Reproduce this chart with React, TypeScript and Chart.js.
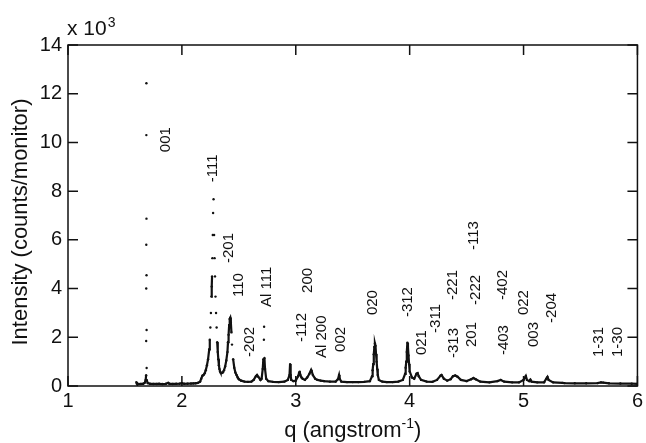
import React, { useEffect, useRef } from 'react';
import { Chart, registerables } from 'chart.js';

Chart.register(...registerables);

const FONT = '"Liberation Sans", Arial, Helvetica, sans-serif';

// scan: q (1/angstrom) and intensity (counts/monitor)
const qValues = [
  1.600, 1.605, 1.620, 1.640, 1.660, 1.675, 1.682,
  1.6860, 1.6865, 1.6870, 1.6875, 1.6880, 1.6885, 1.6890, 1.6895, 1.6900, 1.6905, 1.6910,
  1.700, 1.720, 1.750, 1.780, 1.800, 1.830, 1.860, 1.880, 1.890, 1.920, 1.950, 1.980,
  2.000, 2.020, 2.050, 2.080, 2.100, 2.120, 2.140, 2.160, 2.170, 2.180, 2.190, 2.200,
  2.210, 2.220, 2.230, 2.240, 2.245, 2.250, 2.255, 2.259, 2.262, 2.265, 2.268, 2.271,
  2.274, 2.278, 2.283, 2.287, 2.291, 2.295, 2.300, 2.305, 2.310, 2.315, 2.320, 2.325,
  2.330, 2.335, 2.340, 2.350, 2.360, 2.370, 2.380, 2.390, 2.400, 2.405, 2.410, 2.415,
  2.420, 2.425, 2.430, 2.435, 2.440, 2.450, 2.460, 2.470, 2.480, 2.490, 2.500, 2.520,
  2.550, 2.580, 2.610, 2.630, 2.650, 2.660, 2.670, 2.690, 2.700, 2.710, 2.715, 2.720,
  2.722, 2.725, 2.730, 2.740, 2.760, 2.800, 2.850, 2.900, 2.930, 2.945, 2.950, 2.955,
  2.960, 2.980, 3.000, 3.020, 3.030, 3.035, 3.040, 3.050, 3.060, 3.080, 3.100, 3.120,
  3.130, 3.135, 3.140, 3.150, 3.170, 3.190, 3.220, 3.250, 3.300, 3.350, 3.370, 3.380,
  3.385, 3.400, 3.450, 3.500, 3.550, 3.600, 3.650, 3.670, 3.675, 3.680, 3.685, 3.690,
  3.695, 3.700, 3.705, 3.710, 3.715, 3.720, 3.730, 3.760, 3.800, 3.850, 3.900, 3.940,
  3.960, 3.965, 3.970, 3.975, 3.980, 3.985, 3.990, 3.995, 4.000, 4.020, 4.040, 4.060,
  4.070, 4.080, 4.100, 4.150, 4.200, 4.240, 4.270, 4.280, 4.300, 4.330, 4.360, 4.380,
  4.400, 4.420, 4.450, 4.500, 4.540, 4.560, 4.580, 4.620, 4.700, 4.770, 4.800, 4.830,
  4.900, 4.960, 5.000, 5.020, 5.030, 5.050, 5.060, 5.070, 5.120, 5.180, 5.200, 5.210,
  5.220, 5.260, 5.340, 5.360, 5.450, 5.550, 5.650, 5.680, 5.700, 5.750, 5.850, 5.950,
  6.000,
];

const counts = [
  160, 100, 80, 85, 90, 140, 250,
  440, 1850, 4000, 5800, 10300, 12430, 6870, 4550, 2300, 740, 250,
  120, 90, 85, 85, 90, 80, 90, 130, 90, 85, 90, 95,
  115, 90, 95, 100, 105, 110, 130, 180, 300, 420, 450, 520,
  650, 850, 1100, 1500, 1900, 2400, 3000, 3670, 4080, 4500, 5250, 6200,
  7100, 7670, 6200, 5250, 4500, 3670, 3000, 2400, 1800, 1400, 1100, 850,
  700, 600, 550, 530, 560, 650, 800, 1050, 1400, 1800, 2100, 2500,
  2750, 2800, 2600, 2200, 1700, 1100, 750, 550, 450, 350, 280, 220,
  180, 170, 180, 250, 400, 450, 380, 250, 300, 700, 1100, 1900,
  2430, 1150, 700, 300, 200, 170, 160, 180, 250, 450, 900, 450,
  250, 200, 220, 400, 550, 590, 450, 350, 300, 250, 350, 500,
  600, 660, 600, 450, 300, 250, 220, 200, 180, 180, 280, 450,
  300, 180, 160, 160, 160, 170, 200, 400, 650, 900, 1300, 1600,
  1750, 1650, 1300, 1000, 700, 450, 250, 180, 160, 160, 180, 250,
  500, 750, 1000, 1400, 1780, 1600, 1250, 900, 600, 350, 300, 500,
  530, 400, 250, 180, 170, 250, 420, 450, 300, 220, 280, 400,
  430, 380, 250, 200, 280, 330, 280, 180, 150, 200, 250, 180,
  150, 150, 250, 410, 250, 200, 260, 180, 150, 150, 300, 370,
  250, 150, 130, 120, 110, 110, 120, 150, 140, 110, 100, 95,
  90,
];

// reflection labels, anchored at the start (bottom) of the rotated text
const peakLabels = [
  '001', '-111', '-201', '110', 'Al 111', '-202', '200', '-112', 'Al 200', '002', '020',
  '-312', '021', '-311', '-221', '-313', '201', '-222', '-113', '-402', '-403', '022',
  '003', '-204', '1-31', '1-30',
];
const labelQ = [
  1.86, 2.276, 2.41, 2.50, 2.75, 2.60, 3.11, 3.05, 3.23, 3.40, 3.68,
  3.98, 4.11, 4.23, 4.38, 4.39, 4.55, 4.58, 4.56, 4.82, 4.83, 5.00,
  5.09, 5.25, 5.66, 5.83,
];
const labelI = [
  9600, 8370, 5050, 3650, 3240, 1190, 3820, 1810, 1150, 1400, 2910,
  2830, 1270, 2180, 3530, 1150, 1600, 3330, 5580, 3530, 1270, 2910,
  1600, 2590, 1190, 1190,
];

const xTicks = [1, 2, 3, 4, 5, 6];
const yTickStep = 2000;

const decorPlugin = {
  id: 'decor',
  afterDatasetsDraw(chart: any) {
    const { ctx, chartArea: a, scales } = chart;
    const xs = scales.x;
    const ys = scales.y;
    ctx.save();
    ctx.fillStyle = '#111';
    // peak labels
    ctx.font = `15px ${FONT}`;
    ctx.textAlign = 'left';
    ctx.textBaseline = 'middle';
    peakLabels.forEach((t, i) => {
      const px = xs.getPixelForValue(labelQ[i]);
      const py = ys.getPixelForValue(labelI[i]);
      ctx.save();
      ctx.translate(px, py);
      ctx.rotate(-Math.PI / 2);
      ctx.fillText(t, 0, 0);
      ctx.restore();
    });
    // frame
    ctx.strokeStyle = '#111';
    ctx.lineWidth = 1.5;
    ctx.strokeRect(a.left, a.top, a.right - a.left, a.bottom - a.top);
    // inward ticks
    const tl = 10;
    ctx.beginPath();
    xs.ticks.forEach((t: any) => {
      const px = xs.getPixelForValue(t.value);
      ctx.moveTo(px, a.bottom);
      ctx.lineTo(px, a.bottom - tl);
      ctx.moveTo(px, a.top);
      ctx.lineTo(px, a.top + tl);
    });
    ys.ticks.forEach((t: any) => {
      const py = ys.getPixelForValue(t.value);
      ctx.moveTo(a.left, py);
      ctx.lineTo(a.left + tl, py);
      ctx.moveTo(a.right, py);
      ctx.lineTo(a.right - tl, py);
    });
    ctx.stroke();
    // y title
    ctx.save();
    ctx.font = `22px ${FONT}`;
    ctx.textAlign = 'center';
    ctx.textBaseline = 'middle';
    ctx.translate(21, 222);
    ctx.rotate(-Math.PI / 2);
    ctx.fillText('Intensity (counts/monitor)', 0, 0);
    ctx.restore();
    // x title with superscript
    const big = `22px ${FONT}`;
    const small = `14px ${FONT}`;
    ctx.textAlign = 'left';
    ctx.textBaseline = 'alphabetic';
    ctx.font = big;
    const p1 = 'q (angstrom';
    const p3 = ')';
    const w1 = ctx.measureText(p1).width;
    const w3 = ctx.measureText(p3).width;
    ctx.font = small;
    const w2 = ctx.measureText('-1').width;
    const x0 = (a.left + a.right) / 2 - (w1 + w2 + w3) / 2;
    const base = 437;
    ctx.font = big;
    ctx.fillText(p1, x0, base);
    ctx.font = small;
    ctx.fillText('-1', x0 + w1, base - 9);
    ctx.font = big;
    ctx.fillText(p3, x0 + w1 + w2, base);
    // multiplier
    ctx.font = `21px ${FONT}`;
    const m = 'x 10';
    ctx.fillText(m, a.left - 1, 35);
    const wm = ctx.measureText(m).width;
    ctx.font = small;
    ctx.fillText('3', a.left - 1 + wm + 1, 27);
    ctx.restore();
  },
};

export default function App() {
  const ref = useRef<HTMLCanvasElement | null>(null);
  useEffect(() => {
    if (!ref.current) return;
    const data = qValues.map((q, i) => ({ x: q, y: counts[i] }));
    const chart = new Chart(ref.current, {
      type: 'scatter',
      data: {
        datasets: [
          {
            data,
            showLine: true,
            borderColor: '#111',
            borderWidth: 2.2,
            pointRadius: 1.2,
            pointBackgroundColor: '#111',
            pointBorderWidth: 0,
            segment: {
              borderColor: (c: any) =>
                Math.abs(c.p1.y - c.p0.y) > 11 ? 'rgba(0,0,0,0)' : '#111',
            },
          },
        ],
      },
      options: {
        animation: false,
        responsive: true,
        maintainAspectRatio: false,
        layout: { padding: { top: 45, right: 6, left: 0, bottom: 0 } },
        plugins: { legend: { display: false }, tooltip: { enabled: false } },
        scales: {
          x: {
            type: 'linear',
            min: 1,
            max: 6,
            afterBuildTicks: (s: any) => {
              s.ticks = xTicks.map((v) => ({ value: v }));
            },
            afterFit: (s: any) => {
              s.height = 57;
            },
            grid: { display: false, drawTicks: false },
            border: { display: false },
            ticks: { color: '#111', font: { family: FONT, size: 20 }, padding: 3 },
          },
          y: {
            type: 'linear',
            min: 0,
            max: 14000,
            afterFit: (s: any) => {
              s.width = 68;
            },
            grid: { display: false, drawTicks: false },
            border: { display: false },
            ticks: {
              stepSize: yTickStep,
              color: '#111',
              font: { family: FONT, size: 20 },
              padding: 6,
              callback: (v: any) => String(Number(v) / 1000),
            },
          },
        },
      },
      plugins: [decorPlugin],
    });
    return () => chart.destroy();
  }, []);
  return (
    <div style={{ position: 'fixed', left: 0, top: 0, width: 646, height: 443, background: '#fff' }}>
      <canvas ref={ref} />
    </div>
  );
}
